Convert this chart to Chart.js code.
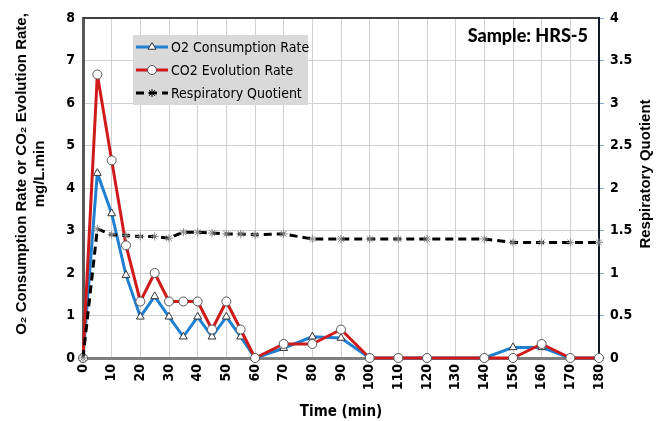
<!DOCTYPE html>
<html>
<head>
<meta charset="utf-8">
<script src="https://cdn.jsdelivr.net/npm/chart.js@4.4.1/dist/chart.umd.min.js"></script>
<style>
  html, body { margin: 0; padding: 0; background: #fff; }
  #wrap { width: 659px; height: 421px; }
</style>
</head>
<body>
<div id="wrap"><canvas id="chart" width="659" height="421"></canvas></div>
<script>
// values
const times = [0, 5, 10, 15, 20, 25, 30, 35, 40, 45, 50, 55, 60, 70, 80, 90, 100, 110, 120, 140, 150, 160, 170, 180];
const o2Rate = [0, 4.35, 3.4, 1.95, 0.97, 1.45, 0.97, 0.5, 0.97, 0.5, 0.97, 0.5, 0, 0.23, 0.5, 0.47, 0, 0, 0, 0, 0.25, 0.25, 0, 0];
const co2Rate = [0, 6.67, 4.65, 2.65, 1.33, 2.0, 1.33, 1.33, 1.33, 0.67, 1.33, 0.67, 0, 0.33, 0.33, 0.67, 0, 0, 0, 0, 0, 0.33, 0, 0];
const rq = [0, 1.52, 1.45, 1.44, 1.43, 1.43, 1.41, 1.48, 1.48, 1.47, 1.46, 1.46, 1.45, 1.46, 1.40, 1.40, 1.40, 1.40, 1.40, 1.40, 1.36, 1.36, 1.36, 1.36];
const seriesNames = ["O2 Consumption Rate", "CO2 Evolution Rate", "Respiratory Quotient"];
const sampleLabel = "Sample: HRS-5";
const leftTitle = ["O\u2082 Consumption Rate or CO\u2082 Evolution Rate,", "mg/L.min"];
const rightTitle = "Respiratory Quotient";

const NARROW = "'DejaVu Sans Condensed', 'Liberation Sans Narrow', 'Liberation Sans', Arial, sans-serif";
const SANS = "'Liberation Sans', Arial, sans-serif";

const pts = ys => times.map((t, i) => ({ x: t, y: ys[i] }));

// legend box, sample label, frame line and the two vertical axis titles
const decor = {
    id: "decor",
    afterDraw(chart) {
        const ctx = chart.ctx;
        const a = chart.chartArea;
        ctx.save();
        ctx.strokeStyle = "#404040";
        ctx.lineWidth = 2;
        ctx.beginPath();
        ctx.moveTo(a.left, a.top);
        ctx.lineTo(a.right, a.top);
        ctx.stroke();

        ctx.fillStyle = "#000";
        ctx.font = "900 18px Lato, " + SANS;
        ctx.textAlign = "right";
        ctx.textBaseline = "middle";
        ctx.fillText(sampleLabel, a.right - 11, 36);

        // axis titles, both reading bottom to top
        ctx.font = "bold 15px " + SANS;
        ctx.textAlign = "center";
        [[22, leftTitle[0]], [40, leftTitle[1]], [646, rightTitle]].forEach(([x, txt]) => {
            ctx.save();
            ctx.translate(x, 174);
            ctx.rotate(-Math.PI / 2);
            ctx.fillText(txt, 0, 0);
            ctx.restore();
        });

        // legend
        const lx = 133, ly = 35, lw = 175, lh = 70;
        ctx.fillStyle = "#d9d9d9";
        ctx.fillRect(lx, ly, lw, lh);
        chart.data.datasets.forEach((ds, i) => {
            const y = ly + 12 + i * 23;
            ctx.save();
            ctx.strokeStyle = ds.borderColor;
            ctx.lineWidth = 3;
            ctx.setLineDash(ds.borderDash || []);
            ctx.beginPath();
            ctx.moveTo(lx + 3, y);
            ctx.lineTo(lx + 35, y);
            ctx.stroke();
            ctx.restore();
            ctx.save();
            ctx.fillStyle = ds.pointBackgroundColor;
            ctx.strokeStyle = i === 2 ? "#000" : ds.pointBorderColor;
            ctx.lineWidth = ds.pointBorderWidth;
            Chart.helpers.drawPoint(ctx, {
                pointStyle: ds.pointStyle,
                radius: ds.pointRadius,
                borderWidth: ds.pointBorderWidth,
                rotation: 0
            }, lx + 19, y);
            ctx.restore();
            ctx.fillStyle = "#000";
            ctx.font = "14px " + NARROW;
            ctx.textAlign = "left";
            ctx.textBaseline = "middle";
            ctx.fillText(ds.label, lx + 38, y + 1);
        });
        ctx.restore();
    }
};

new Chart(document.getElementById("chart"), {
    type: "line",
    data: {
        datasets: [
            {
                label: seriesNames[0],
                data: pts(o2Rate),
                yAxisID: "y",
                borderColor: "#1f7fd0",
                borderWidth: 3,
                borderJoinStyle: "round",
                pointStyle: "triangle",
                pointRadius: 4.5,
                pointBackgroundColor: "#fff",
                pointBorderColor: "#333",
                pointBorderWidth: 1,
                clip: false,
                order: 2
            },
            {
                label: seriesNames[1],
                data: pts(co2Rate),
                yAxisID: "y",
                borderColor: "#d01a1a",
                borderWidth: 3,
                borderJoinStyle: "round",
                pointStyle: "circle",
                pointRadius: 4.5,
                pointBackgroundColor: "#fff",
                pointBorderColor: "#555",
                pointBorderWidth: 1,
                clip: false,
                order: 1
            },
            {
                label: seriesNames[2],
                data: pts(rq),
                yAxisID: "y1",
                borderColor: "#000",
                borderWidth: 3,
                borderDash: [8, 5],
                borderJoinStyle: "round",
                pointStyle: "star",
                pointRadius: 4,
                pointBackgroundColor: "#888",
                pointBorderColor: "#888",
                pointBorderWidth: 1,
                clip: false,
                order: 0
            }
        ]
    },
    options: {
        responsive: false,
        animation: false,
        devicePixelRatio: 1,
        layout: { padding: { top: 18, left: 0, right: 0, bottom: 0 } },
        plugins: {
            legend: { display: false },
            tooltip: { enabled: false }
        },
        scales: {
            x: {
                type: "linear",
                min: 0,
                max: 180,
                ticks: {
                    stepSize: 10,
                    minRotation: 90,
                    maxRotation: 90,
                    color: "#000",
                    padding: 6,
                    font: { family: NARROW, size: 14, weight: "bold" }
                },
                grid: { color: "#d0d0d0", lineWidth: 1, drawTicks: false },
                border: { color: "#7f7f7f", width: 3 },
                title: {
                    display: true,
                    text: "Time (min)",
                    color: "#000",
                    padding: { top: 6, bottom: 0 },
                    font: { family: NARROW, size: 15, weight: "bold" }
                },
                afterFit: s => { s.height = 421 - 358; }
            },
            y: {
                position: "left",
                min: 0,
                max: 8,
                ticks: {
                    stepSize: 1,
                    color: "#000",
                    padding: 8,
                    font: { family: NARROW, size: 14, weight: "bold" }
                },
                grid: { color: "#d0d0d0", lineWidth: 1, drawTicks: false },
                border: { color: "#595959", width: 3 },
                afterFit: s => { s.width = 83; }
            },
            y1: {
                position: "right",
                min: 0,
                max: 4,
                ticks: {
                    stepSize: 0.5,
                    color: "#000",
                    padding: 6,
                    callback: v => String(v),
                    font: { family: NARROW, size: 14, weight: "bold" }
                },
                grid: { drawOnChartArea: false, drawTicks: true, tickLength: 5, color: "#8fa3cf" },
                border: { color: "#101828", width: 2 },
                afterFit: s => { s.width = 60; }
            }
        }
    },
    plugins: [decor]
});
</script>
</body>
</html>
